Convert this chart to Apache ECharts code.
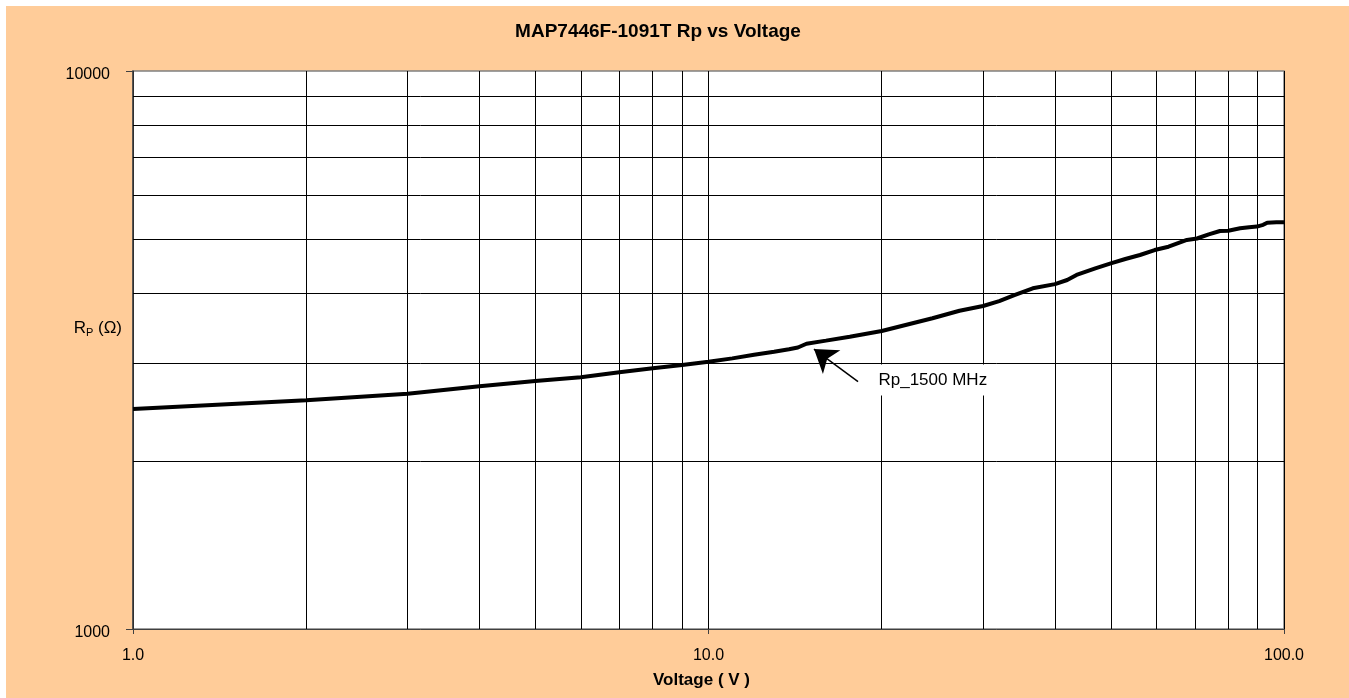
<!DOCTYPE html>
<html>
<head>
<meta charset="utf-8">
<script src="https://cdn.jsdelivr.net/npm/echarts@6/dist/echarts.min.js"></script>
<style>
  html, body { margin: 0; padding: 0; background: #ffffff; }
  #c { position: absolute; left: 6px; top: 6px; width: 1343px; height: 692px; }
</style>
</head>
<body>
<div id="c"></div>
<script>
// ---- data ----
const voltage = [1, 2, 3, 4, 5, 6, 7, 8, 9, 10, 11, 12, 13, 13.8, 14.3, 14.8, 16, 17.6, 20, 22, 24.5, 27.3, 30, 32, 34, 36.6, 40, 42, 43.6, 47, 50, 53, 56.2, 59.6, 63, 67.8, 70.6, 74, 77.4, 80, 83.9, 87, 89.7, 92, 93.5, 97, 100];
const rp = [2479, 2570, 2641, 2723, 2782, 2825, 2885, 2933, 2973, 3013, 3055, 3100, 3140, 3171, 3195, 3245, 3287, 3341, 3420, 3506, 3605, 3719, 3792, 3870, 3965, 4079, 4150, 4221, 4310, 4430, 4522, 4604, 4680, 4777, 4843, 4979, 5010, 5097, 5168, 5173, 5226, 5250, 5262, 5300, 5348, 5358, 5360];
const xMinorGrid = [2, 3, 4, 5, 6, 7, 8, 9, 20, 30, 40, 50, 60, 70, 80, 90];
const yMinorGrid = [2000, 3000, 4000, 5000, 6000, 7000, 8000, 9000];
const seriesName = 'Rp_1500 MHz';
const titleText = 'MAP7446F-1091T Rp vs Voltage';
const xAxisTitle = 'Voltage ( V )';
// annotation: arrow tail/head and label anchor (data coordinates)
const arrowTail = [18.19, 2775];
const arrowHead = [15.25, 3175];
const labelAnchor = [19.08, 2794];

const points = voltage.map((v, i) => [v, rp[i]]);
const FONT = '"Liberation Sans", Arial, sans-serif';

const chart = echarts.init(document.getElementById('c'), null, { renderer: 'canvas' });
chart.setOption({
  backgroundColor: '#FFCC99',
  animation: false,
  graphic: [
    {
      type: 'text',
      x: 652, y: 26,
      style: {
        text: titleText,
        font: 'bold 19px ' + FONT,
        fill: '#000',
        align: 'center', verticalAlign: 'middle',
        textAlign: 'center', textVerticalAlign: 'middle'
      }
    },
    {
      type: 'text',
      x: 116, y: 322,
      style: {
        text: '{a|R}{b|P}{a| (Ω)}',
        align: 'right', verticalAlign: 'middle',
        textAlign: 'right', textVerticalAlign: 'middle',
        fill: '#000',
        rich: {
          a: { fontSize: 17, fontFamily: FONT, color: '#000', lineHeight: 20 },
          b: { fontSize: 11, fontFamily: FONT, color: '#000', verticalAlign: 'bottom', lineHeight: 16 }
        }
      }
    }
  ],
  grid: {
    left: 127, top: 65, right: 65, bottom: 69,
    show: true, backgroundColor: '#ffffff',
    borderColor: '#808080', borderWidth: 1.5
  },
  xAxis: {
    type: 'log', logBase: 10, min: 1, max: 100,
    name: xAxisTitle, nameLocation: 'middle', nameGap: 43,
    nameTextStyle: { fontFamily: FONT, fontSize: 17, fontWeight: 'bold', color: '#000', padding: [0, 14, 0, 0] },
    axisLine: { show: true, lineStyle: { color: '#404040', width: 1 } },
    axisTick: { show: true, inside: false, length: 5, lineStyle: { color: '#404040' } },
    axisLabel: { fontFamily: FONT, fontSize: 16, color: '#000', margin: 19, formatter: v => Number(v).toFixed(1) },
    splitLine: { show: true, lineStyle: { color: '#000', width: 1 } }
  },
  yAxis: {
    type: 'log', logBase: 10, min: 1000, max: 10000,
    axisLine: { show: true, lineStyle: { color: '#404040', width: 1.5 } },
    axisTick: { show: true, inside: false, length: 7, lineStyle: { color: '#404040' } },
    axisLabel: { fontFamily: FONT, fontSize: 16, color: '#000', margin: 23, verticalAlign: 'top', lineHeight: 8, formatter: v => String(Math.round(v)) },
    splitLine: { show: false }
  },
  series: [
    {
      name: 'grid',
      type: 'line',
      data: points,
      showSymbol: false,
      silent: true,
      z: 1,
      lineStyle: { opacity: 0 },
      markLine: {
        silent: true,
        z: 1,
        symbol: ['none', 'none'],
        label: { show: false },
        lineStyle: { color: '#000', width: 1, type: 'solid' },
        emphasis: { disabled: true },
        data: xMinorGrid.map(v => ({ xAxis: v })).concat(yMinorGrid.map(v => ({ yAxis: v })))
      }
    },
    {
      name: seriesName,
      type: 'line',
      data: points,
      showSymbol: false,
      smooth: false,
      z: 5,
      lineStyle: { color: '#000', width: 4 },
      markLine: {
        silent: true,
        z: 6,
        symbolSize: 22,
        label: { show: false },
        lineStyle: { color: '#000', width: 1.5, type: 'solid' },
        emphasis: { disabled: true },
        data: [[
          { coord: arrowTail, symbol: 'none' },
          { coord: arrowHead, symbol: 'arrow' }
        ]]
      },
      markPoint: {
        silent: true,
        z: 7,
        data: [{
          coord: labelAnchor,
          symbol: 'rect',
          symbolSize: 1,
          itemStyle: { color: 'rgba(0,0,0,0)' },
          label: {
            show: true, position: 'right', distance: 5,
            formatter: seriesName,
            fontFamily: FONT, fontSize: 17, color: '#000',
            backgroundColor: '#ffffff', padding: [7, 14, 7, 3]
          }
        }]
      }
    }
  ]
});
</script>
</body>
</html>
